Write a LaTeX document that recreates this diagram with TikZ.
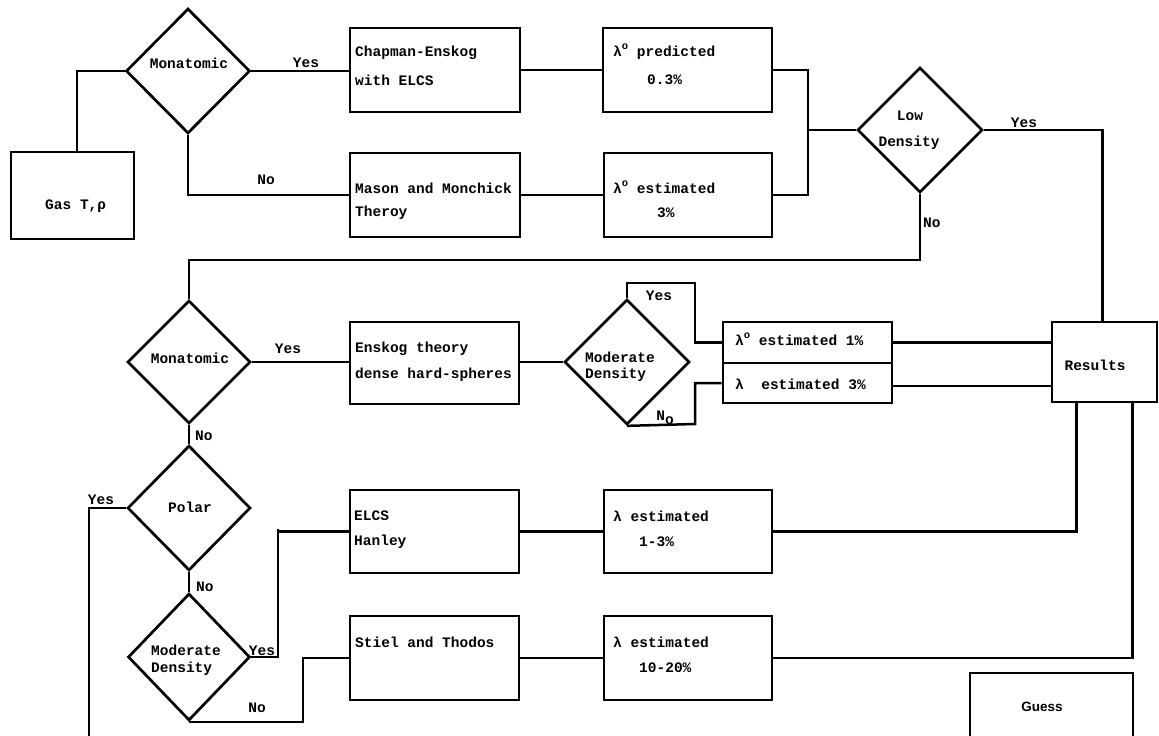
\documentclass[tikz,border=0pt]{standalone}
\usepackage{fontspec}
\usetikzlibrary{shapes.geometric}
\newfontfamily\twfont{Liberation Mono}
\newfontfamily\gsfont{Liberation Sans}
\newcommand\twbold{\twfont\bfseries\fontsize{14.5}{16}\selectfont}
\newcommand\lamo{λ\raisebox{0.5em}{\fontsize{10.5}{10.5}\selectfont o}}
\tikzset{
  box/.style={draw, line width=2.7pt, rectangle, inner sep=0pt},
  decide/.style={draw, line width=2.7pt, diamond, inner sep=0pt},
  conn/.style={line width=2.5pt},
  txt/.style={font=\twbold, inner sep=0pt, anchor=west},
  ctxt/.style={font=\twbold, inner sep=0pt, anchor=center},
}
\begin{document}
\begin{tikzpicture}[x=1pt, y=-1pt]
\clip (0,0) rectangle (1159,736);
\fill[white] (0,0) rectangle (1159,736);

% ---- boxes
\node[box, minimum width=123, minimum height=87] (gas)   at (72.5,195.5) {};
\node[box, minimum width=170, minimum height=84] (chap)  at (435,70) {};
\node[box, minimum width=170, minimum height=84] (mason) at (435,195) {};
\node[box, minimum width=169, minimum height=84] (lp)    at (687.5,70) {};
\node[box, minimum width=168, minimum height=84] (le)    at (688,195) {};
\node[box, minimum width=169, minimum height=82] (ensk)  at (434.5,363) {};
\node[box, minimum width=169, minimum height=41] (l1)    at (807.5,342.5) {};
\node[box, minimum width=169, minimum height=40] (l2)    at (807.5,383) {};
\node[box, minimum width=105, minimum height=80] (res)   at (1104.5,362) {};
\node[box, minimum width=169, minimum height=83] (elcs)  at (434.5,531.5) {};
\node[box, minimum width=169, minimum height=84] (stiel) at (434.5,658) {};
\node[box, minimum width=168, minimum height=83] (l3)    at (688,531.5) {};
\node[box, minimum width=168, minimum height=84] (l4)    at (688,658) {};
\node[box, minimum width=163, minimum height=97] (guess) at (1051.5,721.5) {};

% ---- decisions
\node[decide, minimum width=124, minimum height=125] (d1)  at (188,71) {};
\node[decide, minimum width=125, minimum height=125] (ld)  at (920,130) {};
\node[decide, minimum width=123, minimum height=123] (m2)  at (189,362) {};
\node[decide, minimum width=125, minimum height=125] (md1) at (627,362) {};
\node[decide, minimum width=123, minimum height=125] (pol) at (189,508) {};
\node[decide, minimum width=122, minimum height=127] (md2) at (189,657) {};

% ---- junction points
\coordinate (j1) at (808,130);
\coordinate (j2) at (920,260);
\coordinate (j3) at (695,283);
\coordinate (j4) at (695,424);
\coordinate (j5) at (89,508);
\coordinate (j6) at (89,740);
\coordinate (j7) at (278,529);
\coordinate (j8) at (303,658);

% ---- connectors
\draw[conn] ([xshift=4.5pt]gas.north) |- (d1.west);
\draw[conn] (d1.east) -- (d1.east -| chap.west);
\draw[conn] (d1.south) |- (mason.west);
\draw[conn] (chap.east) -- (lp.west);
\draw[conn] (mason.east) -- (le.west);
\draw[conn] (lp.east) -| (j1) |- (le.east);
\draw[conn] (j1) -- (ld.west);
\draw[conn] (ld.east) -| ([xshift=-2pt]res.north);
\draw[conn] (ld.south) -- (j2) -| (m2.north);
\draw[conn] (m2.east) -- (m2.east -| ensk.west);
\draw[conn] (md1.west -| ensk.east) -- (md1.west);
\draw[conn] (md1.north) |- (j3) |- (l1.west);
\draw[conn] (md1.south) -- (j4) |- (l2.west);
\draw[conn] (l1.east) -- (l1.east -| res.west);
\draw[conn] ([yshift=-3pt]l2.east) -- ([yshift=-3pt]l2.east -| res.west);
\draw[conn] (m2.south) -- (pol.north);
\draw[conn] (pol.west) -- (j5) -- (j6);
\draw[conn] (pol.south) -- (md2.north);
\draw[conn] (md2.east) -| (j7) |- (elcs.west);
\draw[conn] (md2.south) -| (j8) -- (stiel.west);
\draw[conn] (elcs.east) -- (l3.west);
\draw[conn] (stiel.east) -- (l4.west);
\draw[conn] (l3.east) -| ([xshift=-28pt]res.south);
\draw[conn] (l4.east) -| ([xshift=28pt]res.south);

% ---- texts
\node[txt] (tgas) at (45,206) {Gas T,ρ};
\node[ctxt] (td1) at (189,63) {Monatomic};
\node[ctxt] (y1) at (306,63) {Yes};
\node[ctxt] (n1) at (266,180) {No};
\node[txt] (tc1) at (355,53) {Chapman-Enskog};
\node[txt] (tc2) at (355,80) {with ELCS};
\node[txt] (tm1) at (355,188) {Mason and Monchick};
\node[txt] (tm2) at (355,213) {Theroy};
\node[txt] (tp1) at (613,52) {\lamo{} predicted};
\node[txt] (tp2) at (647,80) {0.3\%};
\node[txt] (te1) at (613,187) {\lamo{} estimated};
\node[txt] (te2) at (657,213) {3\%};
\node[ctxt] (tl1) at (910,116) {Low};
\node[ctxt] (tl2) at (909,143) {Density};
\node[ctxt] (y2) at (1024,123) {Yes};
\node[txt] (n2) at (923,223) {No};
\node[ctxt] (tm3) at (190,358) {Monatomic};
\node[ctxt] (y3) at (288,349) {Yes};
\node[txt] (n3) at (195,436) {No};
\node[txt] (tk1) at (355,349) {Enskog theory};
\node[txt] (tk2) at (355,375) {dense hard-spheres};
\node[txt] (tmd1) at (585,357) {Moderate};
\node[txt] (tmd2) at (585,375) {Density};
\node[ctxt] (y4) at (659,296) {Yes};
\node[ctxt] (n4) at (665,418) {N\raisebox{-0.25em}{o}};
\node[txt] (t11) at (735,339) {\lamo{} estimated 1\%};
\node[txt] (t21) at (735,384) {λ\ \ estimated 3\%};
\node[ctxt] (tres) at (1095,365) {Results};
\node[ctxt] (tpol) at (190,507) {Polar};
\node[ctxt] (y5) at (101,500) {Yes};
\node[txt] (n5) at (196,587) {No};
\node[txt] (tmd3) at (151,650) {Moderate};
\node[txt] (tmd4) at (151,669) {Density};
\node[ctxt] (y6) at (262,651) {Yes};
\node[ctxt] (n6) at (257,708) {No};
\node[txt] (tel1) at (354,516) {ELCS};
\node[txt] (tel2) at (354,542) {Hanley};
\node[txt] (ts1) at (355,642) {Stiel and Thodos};
\node[txt] (t31) at (613,516) {λ estimated};
\node[txt] (t32) at (639,542) {1-3\%};
\node[txt] (t41) at (613,642) {λ estimated};
\node[txt] (t42) at (639,668) {10-20\%};
\node[font=\gsfont\bfseries\fontsize{13.5}{15}\selectfont, inner sep=0pt] (tgu) at (1042,707) {Guess};
\end{tikzpicture}
\end{document}
